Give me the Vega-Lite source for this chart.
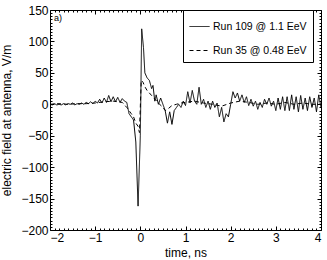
{
  "$schema": "https://vega.github.io/schema/vega-lite/v6.json",
  "width": 271,
  "height": 220,
  "autosize": {"type": "none"},
  "padding": {"left": 50, "top": 10, "right": 6, "bottom": 30},
  "background": "white",
  "config": {
    "font": "Liberation Sans",
    "view": {"stroke": "black", "strokeWidth": 1},
    "axis": {
      "labelFont": "Liberation Sans",
      "titleFont": "Liberation Sans",
      "labelFontSize": 12,
      "titleFontSize": 12,
      "titleFontWeight": "normal",
      "labelColor": "black",
      "titleColor": "black",
      "domain": false,
      "tickColor": "black",
      "tickSize": -4,
      "gridColor": "#888",
      "gridDash": [1, 2],
      "gridWidth": 0.8
    }
  },
  "data": {
    "values": [
      {"t": -2.00, "v": 0, "s": "Run 109 @ 1.1 EeV"},
      {"t": -1.95, "v": -1, "s": "Run 109 @ 1.1 EeV"},
      {"t": -1.90, "v": 1, "s": "Run 109 @ 1.1 EeV"},
      {"t": -1.85, "v": -1, "s": "Run 109 @ 1.1 EeV"},
      {"t": -1.80, "v": 0, "s": "Run 109 @ 1.1 EeV"},
      {"t": -1.75, "v": -1, "s": "Run 109 @ 1.1 EeV"},
      {"t": -1.70, "v": 1, "s": "Run 109 @ 1.1 EeV"},
      {"t": -1.65, "v": -1, "s": "Run 109 @ 1.1 EeV"},
      {"t": -1.60, "v": 1, "s": "Run 109 @ 1.1 EeV"},
      {"t": -1.55, "v": 0, "s": "Run 109 @ 1.1 EeV"},
      {"t": -1.50, "v": 2, "s": "Run 109 @ 1.1 EeV"},
      {"t": -1.45, "v": -1, "s": "Run 109 @ 1.1 EeV"},
      {"t": -1.40, "v": 1, "s": "Run 109 @ 1.1 EeV"},
      {"t": -1.35, "v": 0, "s": "Run 109 @ 1.1 EeV"},
      {"t": -1.30, "v": 2, "s": "Run 109 @ 1.1 EeV"},
      {"t": -1.25, "v": 0, "s": "Run 109 @ 1.1 EeV"},
      {"t": -1.20, "v": 3, "s": "Run 109 @ 1.1 EeV"},
      {"t": -1.15, "v": 1, "s": "Run 109 @ 1.1 EeV"},
      {"t": -1.10, "v": 4, "s": "Run 109 @ 1.1 EeV"},
      {"t": -1.05, "v": 1, "s": "Run 109 @ 1.1 EeV"},
      {"t": -1.00, "v": 5, "s": "Run 109 @ 1.1 EeV"},
      {"t": -0.95, "v": 2, "s": "Run 109 @ 1.1 EeV"},
      {"t": -0.90, "v": 8, "s": "Run 109 @ 1.1 EeV"},
      {"t": -0.85, "v": 2, "s": "Run 109 @ 1.1 EeV"},
      {"t": -0.80, "v": 10, "s": "Run 109 @ 1.1 EeV"},
      {"t": -0.75, "v": 3, "s": "Run 109 @ 1.1 EeV"},
      {"t": -0.70, "v": 14, "s": "Run 109 @ 1.1 EeV"},
      {"t": -0.65, "v": 4, "s": "Run 109 @ 1.1 EeV"},
      {"t": -0.60, "v": 12, "s": "Run 109 @ 1.1 EeV"},
      {"t": -0.55, "v": 4, "s": "Run 109 @ 1.1 EeV"},
      {"t": -0.50, "v": 11, "s": "Run 109 @ 1.1 EeV"},
      {"t": -0.45, "v": 3, "s": "Run 109 @ 1.1 EeV"},
      {"t": -0.40, "v": 9, "s": "Run 109 @ 1.1 EeV"},
      {"t": -0.35, "v": 5, "s": "Run 109 @ 1.1 EeV"},
      {"t": -0.30, "v": 3, "s": "Run 109 @ 1.1 EeV"},
      {"t": -0.25, "v": -15, "s": "Run 109 @ 1.1 EeV"},
      {"t": -0.20, "v": -20, "s": "Run 109 @ 1.1 EeV"},
      {"t": -0.15, "v": -25, "s": "Run 109 @ 1.1 EeV"},
      {"t": -0.10, "v": -60, "s": "Run 109 @ 1.1 EeV"},
      {"t": -0.05, "v": -162, "s": "Run 109 @ 1.1 EeV"},
      {"t": 0.00, "v": -50, "s": "Run 109 @ 1.1 EeV"},
      {"t": 0.03, "v": 120, "s": "Run 109 @ 1.1 EeV"},
      {"t": 0.07, "v": 90, "s": "Run 109 @ 1.1 EeV"},
      {"t": 0.10, "v": 50, "s": "Run 109 @ 1.1 EeV"},
      {"t": 0.15, "v": 42, "s": "Run 109 @ 1.1 EeV"},
      {"t": 0.20, "v": 38, "s": "Run 109 @ 1.1 EeV"},
      {"t": 0.25, "v": 25, "s": "Run 109 @ 1.1 EeV"},
      {"t": 0.28, "v": 30, "s": "Run 109 @ 1.1 EeV"},
      {"t": 0.32, "v": 5, "s": "Run 109 @ 1.1 EeV"},
      {"t": 0.35, "v": 15, "s": "Run 109 @ 1.1 EeV"},
      {"t": 0.40, "v": 0, "s": "Run 109 @ 1.1 EeV"},
      {"t": 0.45, "v": 10, "s": "Run 109 @ 1.1 EeV"},
      {"t": 0.50, "v": 0, "s": "Run 109 @ 1.1 EeV"},
      {"t": 0.55, "v": -10, "s": "Run 109 @ 1.1 EeV"},
      {"t": 0.60, "v": -30, "s": "Run 109 @ 1.1 EeV"},
      {"t": 0.65, "v": -12, "s": "Run 109 @ 1.1 EeV"},
      {"t": 0.70, "v": -32, "s": "Run 109 @ 1.1 EeV"},
      {"t": 0.75, "v": -10, "s": "Run 109 @ 1.1 EeV"},
      {"t": 0.80, "v": -5, "s": "Run 109 @ 1.1 EeV"},
      {"t": 0.85, "v": 0, "s": "Run 109 @ 1.1 EeV"},
      {"t": 0.90, "v": -5, "s": "Run 109 @ 1.1 EeV"},
      {"t": 0.95, "v": 5, "s": "Run 109 @ 1.1 EeV"},
      {"t": 1.00, "v": -2, "s": "Run 109 @ 1.1 EeV"},
      {"t": 1.05, "v": 20, "s": "Run 109 @ 1.1 EeV"},
      {"t": 1.10, "v": 2, "s": "Run 109 @ 1.1 EeV"},
      {"t": 1.15, "v": 22, "s": "Run 109 @ 1.1 EeV"},
      {"t": 1.20, "v": 5, "s": "Run 109 @ 1.1 EeV"},
      {"t": 1.25, "v": 0, "s": "Run 109 @ 1.1 EeV"},
      {"t": 1.30, "v": 27, "s": "Run 109 @ 1.1 EeV"},
      {"t": 1.35, "v": 0, "s": "Run 109 @ 1.1 EeV"},
      {"t": 1.40, "v": 8, "s": "Run 109 @ 1.1 EeV"},
      {"t": 1.45, "v": -5, "s": "Run 109 @ 1.1 EeV"},
      {"t": 1.50, "v": 5, "s": "Run 109 @ 1.1 EeV"},
      {"t": 1.55, "v": -8, "s": "Run 109 @ 1.1 EeV"},
      {"t": 1.60, "v": 5, "s": "Run 109 @ 1.1 EeV"},
      {"t": 1.65, "v": -5, "s": "Run 109 @ 1.1 EeV"},
      {"t": 1.70, "v": 2, "s": "Run 109 @ 1.1 EeV"},
      {"t": 1.75, "v": -20, "s": "Run 109 @ 1.1 EeV"},
      {"t": 1.80, "v": -5, "s": "Run 109 @ 1.1 EeV"},
      {"t": 1.85, "v": -28, "s": "Run 109 @ 1.1 EeV"},
      {"t": 1.90, "v": -15, "s": "Run 109 @ 1.1 EeV"},
      {"t": 1.95, "v": -20, "s": "Run 109 @ 1.1 EeV"},
      {"t": 2.00, "v": 0, "s": "Run 109 @ 1.1 EeV"},
      {"t": 2.05, "v": 20, "s": "Run 109 @ 1.1 EeV"},
      {"t": 2.10, "v": 10, "s": "Run 109 @ 1.1 EeV"},
      {"t": 2.15, "v": 18, "s": "Run 109 @ 1.1 EeV"},
      {"t": 2.20, "v": 5, "s": "Run 109 @ 1.1 EeV"},
      {"t": 2.25, "v": 15, "s": "Run 109 @ 1.1 EeV"},
      {"t": 2.30, "v": 3, "s": "Run 109 @ 1.1 EeV"},
      {"t": 2.35, "v": 12, "s": "Run 109 @ 1.1 EeV"},
      {"t": 2.40, "v": -2, "s": "Run 109 @ 1.1 EeV"},
      {"t": 2.45, "v": 8, "s": "Run 109 @ 1.1 EeV"},
      {"t": 2.50, "v": -3, "s": "Run 109 @ 1.1 EeV"},
      {"t": 2.55, "v": 5, "s": "Run 109 @ 1.1 EeV"},
      {"t": 2.60, "v": -8, "s": "Run 109 @ 1.1 EeV"},
      {"t": 2.65, "v": 3, "s": "Run 109 @ 1.1 EeV"},
      {"t": 2.70, "v": -5, "s": "Run 109 @ 1.1 EeV"},
      {"t": 2.75, "v": 8, "s": "Run 109 @ 1.1 EeV"},
      {"t": 2.80, "v": 0, "s": "Run 109 @ 1.1 EeV"},
      {"t": 2.85, "v": 10, "s": "Run 109 @ 1.1 EeV"},
      {"t": 2.90, "v": -3, "s": "Run 109 @ 1.1 EeV"},
      {"t": 2.95, "v": 5, "s": "Run 109 @ 1.1 EeV"},
      {"t": 3.00, "v": -10, "s": "Run 109 @ 1.1 EeV"},
      {"t": 3.05, "v": 10, "s": "Run 109 @ 1.1 EeV"},
      {"t": 3.10, "v": -8, "s": "Run 109 @ 1.1 EeV"},
      {"t": 3.15, "v": 12, "s": "Run 109 @ 1.1 EeV"},
      {"t": 3.20, "v": -10, "s": "Run 109 @ 1.1 EeV"},
      {"t": 3.25, "v": 12, "s": "Run 109 @ 1.1 EeV"},
      {"t": 3.30, "v": -10, "s": "Run 109 @ 1.1 EeV"},
      {"t": 3.35, "v": 15, "s": "Run 109 @ 1.1 EeV"},
      {"t": 3.40, "v": -8, "s": "Run 109 @ 1.1 EeV"},
      {"t": 3.45, "v": 12, "s": "Run 109 @ 1.1 EeV"},
      {"t": 3.50, "v": -12, "s": "Run 109 @ 1.1 EeV"},
      {"t": 3.55, "v": 14, "s": "Run 109 @ 1.1 EeV"},
      {"t": 3.60, "v": -8, "s": "Run 109 @ 1.1 EeV"},
      {"t": 3.65, "v": 10, "s": "Run 109 @ 1.1 EeV"},
      {"t": 3.70, "v": -10, "s": "Run 109 @ 1.1 EeV"},
      {"t": 3.75, "v": 12, "s": "Run 109 @ 1.1 EeV"},
      {"t": 3.80, "v": -5, "s": "Run 109 @ 1.1 EeV"},
      {"t": 3.85, "v": 10, "s": "Run 109 @ 1.1 EeV"},
      {"t": 3.90, "v": -12, "s": "Run 109 @ 1.1 EeV"},
      {"t": 3.95, "v": 15, "s": "Run 109 @ 1.1 EeV"},
      {"t": 4.00, "v": -5, "s": "Run 109 @ 1.1 EeV"},
      {"t": -2.0, "v": 0, "s": "Run 35 @ 0.48 EeV"},
      {"t": -1.8, "v": 1, "s": "Run 35 @ 0.48 EeV"},
      {"t": -1.6, "v": 0, "s": "Run 35 @ 0.48 EeV"},
      {"t": -1.4, "v": 1, "s": "Run 35 @ 0.48 EeV"},
      {"t": -1.2, "v": 1, "s": "Run 35 @ 0.48 EeV"},
      {"t": -1.0, "v": 2, "s": "Run 35 @ 0.48 EeV"},
      {"t": -0.8, "v": 4, "s": "Run 35 @ 0.48 EeV"},
      {"t": -0.6, "v": 5, "s": "Run 35 @ 0.48 EeV"},
      {"t": -0.5, "v": 4, "s": "Run 35 @ 0.48 EeV"},
      {"t": -0.4, "v": 3, "s": "Run 35 @ 0.48 EeV"},
      {"t": -0.3, "v": -5, "s": "Run 35 @ 0.48 EeV"},
      {"t": -0.2, "v": -15, "s": "Run 35 @ 0.48 EeV"},
      {"t": -0.15, "v": -20, "s": "Run 35 @ 0.48 EeV"},
      {"t": -0.1, "v": -30, "s": "Run 35 @ 0.48 EeV"},
      {"t": -0.05, "v": -35, "s": "Run 35 @ 0.48 EeV"},
      {"t": -0.02, "v": -45, "s": "Run 35 @ 0.48 EeV"},
      {"t": 0.02, "v": 38, "s": "Run 35 @ 0.48 EeV"},
      {"t": 0.06, "v": 35, "s": "Run 35 @ 0.48 EeV"},
      {"t": 0.1, "v": 28, "s": "Run 35 @ 0.48 EeV"},
      {"t": 0.15, "v": 22, "s": "Run 35 @ 0.48 EeV"},
      {"t": 0.2, "v": 18, "s": "Run 35 @ 0.48 EeV"},
      {"t": 0.3, "v": 10, "s": "Run 35 @ 0.48 EeV"},
      {"t": 0.4, "v": 2, "s": "Run 35 @ 0.48 EeV"},
      {"t": 0.5, "v": -5, "s": "Run 35 @ 0.48 EeV"},
      {"t": 0.55, "v": -10, "s": "Run 35 @ 0.48 EeV"},
      {"t": 0.6, "v": -8, "s": "Run 35 @ 0.48 EeV"},
      {"t": 0.7, "v": -2, "s": "Run 35 @ 0.48 EeV"},
      {"t": 0.8, "v": 0, "s": "Run 35 @ 0.48 EeV"},
      {"t": 0.9, "v": 2, "s": "Run 35 @ 0.48 EeV"},
      {"t": 1.0, "v": 3, "s": "Run 35 @ 0.48 EeV"},
      {"t": 1.2, "v": 5, "s": "Run 35 @ 0.48 EeV"},
      {"t": 1.4, "v": 2, "s": "Run 35 @ 0.48 EeV"},
      {"t": 1.6, "v": 0, "s": "Run 35 @ 0.48 EeV"},
      {"t": 1.8, "v": -3, "s": "Run 35 @ 0.48 EeV"},
      {"t": 2.0, "v": 2, "s": "Run 35 @ 0.48 EeV"},
      {"t": 2.2, "v": 5, "s": "Run 35 @ 0.48 EeV"},
      {"t": 2.4, "v": 3, "s": "Run 35 @ 0.48 EeV"},
      {"t": 2.6, "v": 0, "s": "Run 35 @ 0.48 EeV"},
      {"t": 2.8, "v": 2, "s": "Run 35 @ 0.48 EeV"},
      {"t": 3.0, "v": 0, "s": "Run 35 @ 0.48 EeV"},
      {"t": 3.2, "v": 3, "s": "Run 35 @ 0.48 EeV"},
      {"t": 3.4, "v": 0, "s": "Run 35 @ 0.48 EeV"},
      {"t": 3.6, "v": 2, "s": "Run 35 @ 0.48 EeV"},
      {"t": 3.8, "v": 0, "s": "Run 35 @ 0.48 EeV"},
      {"t": 4.0, "v": 0, "s": "Run 35 @ 0.48 EeV"}
    ]
  },
  "layer": [
    {
      "mark": {"type": "line", "opacity": 0},
      "encoding": {
        "x": {"field": "t", "type": "quantitative", "scale": {"domain": [-2, 4], "nice": false}, "axis": {"orient": "bottom", "labels": false, "grid": false, "title": null, "tickSize": -2, "values": [-1.9,-1.8,-1.7,-1.6,-1.5,-1.4,-1.3,-1.2,-1.1,-0.9,-0.8,-0.7,-0.6,-0.5,-0.4,-0.3,-0.2,-0.1,0.1,0.2,0.3,0.4,0.5,0.6,0.7,0.8,0.9,1.1,1.2,1.3,1.4,1.5,1.6,1.7,1.8,1.9,2.1,2.2,2.3,2.4,2.5,2.6,2.7,2.8,2.9,3.1,3.2,3.3,3.4,3.5,3.6,3.7,3.8,3.9]}},
        "y": {"field": "v", "type": "quantitative", "scale": {"domain": [-200, 150], "nice": false}, "axis": {"orient": "left", "labels": false, "grid": false, "title": null, "tickSize": -2, "values": [-195,-190,-185,-180,-175,-170,-165,-160,-155,-145,-140,-135,-130,-125,-120,-115,-110,-105,-95,-90,-85,-80,-75,-70,-65,-60,-55,-45,-40,-35,-30,-25,-20,-15,-10,-5,5,10,15,20,25,30,35,40,45,55,60,65,70,75,80,85,90,95,105,110,115,120,125,130,135,140,145]}}
      }
    },
    {
      "mark": {"type": "line", "opacity": 0},
      "encoding": {
        "x": {"field": "t", "type": "quantitative", "scale": {"domain": [-2, 4], "nice": false}, "axis": {"orient": "top", "labels": false, "grid": false, "title": null, "tickSize": -2, "values": [-1.9,-1.8,-1.7,-1.6,-1.5,-1.4,-1.3,-1.2,-1.1,-0.9,-0.8,-0.7,-0.6,-0.5,-0.4,-0.3,-0.2,-0.1,0.1,0.2,0.3,0.4,0.5,0.6,0.7,0.8,0.9,1.1,1.2,1.3,1.4,1.5,1.6,1.7,1.8,1.9,2.1,2.2,2.3,2.4,2.5,2.6,2.7,2.8,2.9,3.1,3.2,3.3,3.4,3.5,3.6,3.7,3.8,3.9]}},
        "y": {"field": "v", "type": "quantitative", "scale": {"domain": [-200, 150], "nice": false}, "axis": {"orient": "right", "labels": false, "grid": false, "title": null, "tickSize": -2, "values": [-195,-190,-185,-180,-175,-170,-165,-160,-155,-145,-140,-135,-130,-125,-120,-115,-110,-105,-95,-90,-85,-80,-75,-70,-65,-60,-55,-45,-40,-35,-30,-25,-20,-15,-10,-5,5,10,15,20,25,30,35,40,45,55,60,65,70,75,80,85,90,95,105,110,115,120,125,130,135,140,145]}}
      }
    },
    {
      "mark": {"type": "line", "opacity": 0},
      "encoding": {
        "x": {"field": "t", "type": "quantitative", "scale": {"domain": [-2, 4], "nice": false}, "axis": {"orient": "top", "labels": false, "grid": false, "title": null, "values": [-2, -1, 0, 1, 2, 3, 4]}},
        "y": {"field": "v", "type": "quantitative", "scale": {"domain": [-200, 150], "nice": false}, "axis": {"orient": "right", "labels": false, "grid": false, "title": null, "values": [-200, -150, -100, -50, 0, 50, 100, 150]}}
      }
    },
    {
      "mark": {"type": "line", "strokeWidth": 1, "stroke": "black", "clip": true},
      "encoding": {
        "x": {"field": "t", "type": "quantitative", "scale": {"domain": [-2, 4], "nice": false}, "axis": {"title": "time, ns", "values": [-2, -1, 0, 1, 2, 3, 4], "titlePadding": 4, "labelPadding": 6}},
        "y": {"field": "v", "type": "quantitative", "scale": {"domain": [-200, 150], "nice": false}, "axis": {"title": "electric field at antenna, V/m", "values": [-200, -150, -100, -50, 0, 50, 100, 150], "titlePadding": 7, "labelPadding": 6}},
        "strokeDash": {
          "field": "s", "type": "nominal",
          "scale": {"domain": ["Run 109 @ 1.1 EeV", "Run 35 @ 0.48 EeV"], "range": [[1, 0], [4, 3]]},
          "legend": {
            "title": null, "orient": "none", "legendX": 133, "legendY": 0,
            "symbolType": "stroke", "symbolSize": 400, "symbolStrokeWidth": 1,
            "symbolStrokeColor": "black",
            "labelFont": "Liberation Sans", "labelFontSize": 10.5, "labelColor": "black",
            "strokeColor": "black", "fillColor": "white", "padding": 6, "rowPadding": 8,
            "labelOffset": 3
          }
        }
      }
    },
    {
      "data": {"values": [{"label": "a)", "t": -2, "v": 150}]},
      "mark": {"type": "text", "align": "left", "baseline": "top", "dx": 4, "dy": 4, "fontSize": 9, "font": "Liberation Sans"},
      "encoding": {
        "x": {"field": "t", "type": "quantitative", "axis": null},
        "y": {"field": "v", "type": "quantitative", "axis": null},
        "text": {"field": "label"}
      }
    }
  ],
  "resolve": {"axis": {"x": "independent", "y": "independent"}}
}
